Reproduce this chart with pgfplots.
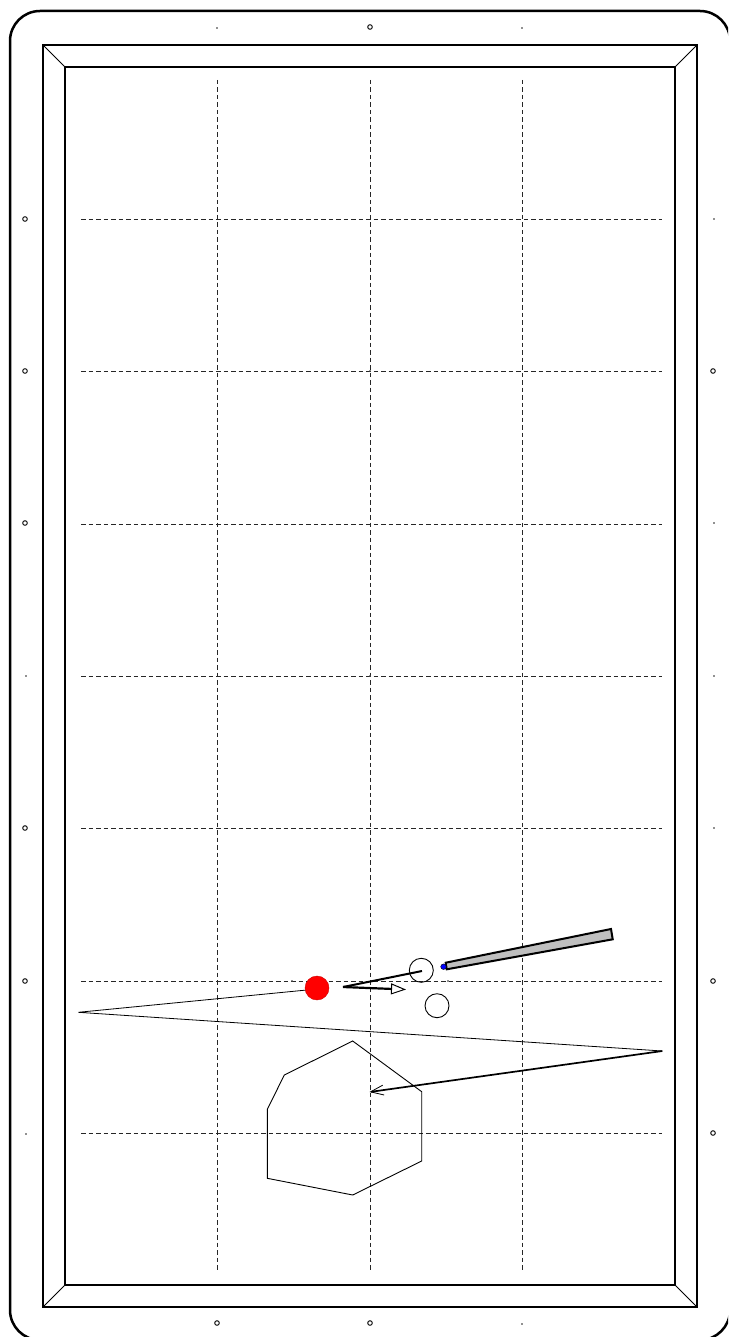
\documentclass[border=0pt]{standalone}
\usepackage{pgfplots}
\pgfplotsset{compat=1.18}
\usetikzlibrary{arrows.meta}
\begin{document}
\begin{tikzpicture}
\begin{axis}[
  scale only axis, width=728bp, height=1337bp,
  xmin=0, xmax=728, ymin=0, ymax=1337, y dir=reverse,
  hide axis, clip=true,
]
% canvas
\addplot[draw=none, forget plot] coordinates {(0,0) (728,1337)};
% outer rounded border
\addplot[black, line width=2.5bp, rounded corners=30bp, no markers] coordinates {(10,600) (10,11) (730,11) (730,1340) (10,1340) (10,600)};
% rail
\addplot[black, line width=1.3bp, no markers] coordinates {(43,45) (697,45) (697,1307) (43,1307) (43,45) (697,45)};
\addplot[black, line width=1.3bp, no markers] coordinates {(65,67) (675,67) (675,1285) (65,1285) (65,67) (675,67)};
\addplot[black, line width=1bp, no markers] coordinates {(43,45) (65,67)};
\addplot[black, line width=1bp, no markers] coordinates {(697,45) (675,67)};
\addplot[black, line width=1bp, no markers] coordinates {(697,1307) (675,1285)};
\addplot[black, line width=1bp, no markers] coordinates {(43,1307) (65,1285)};
% grid
\pgfplotsset{gridl/.style={black!85, line width=0.9bp, dash pattern=on 4.5bp off 3bp, no markers}}
\addplot[gridl] coordinates {(217.5,80) (217.5,1272)};
\addplot[gridl] coordinates {(370,80) (370,1272)};
\addplot[gridl] coordinates {(522.5,80) (522.5,1272)};
\addplot[gridl] coordinates {(81,219) (662,219)};
\addplot[gridl] coordinates {(81,371.5) (662,371.5)};
\addplot[gridl] coordinates {(81,524) (662,524)};
\addplot[gridl] coordinates {(81,676) (662,676)};
\addplot[gridl] coordinates {(81,828) (662,828)};
\addplot[gridl] coordinates {(81,981) (662,981)};
\addplot[gridl] coordinates {(81,1133) (662,1133)};
% diamonds: circles
\addplot[only marks, mark=o, mark size=2.3bp, mark options={line width=0.9bp, black}] coordinates {
 (370,27) (217,1323) (370,1323)
 (25,219) (25,371) (25,523) (25,828) (25,981)
 (713,371) (713,981) (713,1133)};
% diamonds: dots
\addplot[only marks, mark=*, mark size=0.6bp, mark options={black!70, draw=none}] coordinates {
 (217,28) (522,28) (522,1324)
 (26,676) (26,1134)
 (714,219) (714,523) (714,676) (714,828)
 (292,981) (448,981) (370,371) (370,676)};
% hexagon
\addplot[black, line width=0.9bp, no markers] coordinates {(352.7,1041) (421.7,1091.7) (421.7,1161) (352.7,1195) (267.3,1178.3) (267.3,1109.3) (284.3,1075) (352.7,1041) (421.7,1091.7)};
% ball path
\addplot[black, line width=0.8bp, no markers] coordinates {(317,989) (78.3,1012.3) (662.3,1051)};
\addplot[black, line width=1.7bp, no markers, -{Straight Barb[length=13bp, width=10bp, line width=0.8bp]}] coordinates {(662.3,1051) (369.5,1092)};
% balls
\addplot[only marks, mark=*, mark size=12bp, mark options={fill=red, draw=red!80!black, line width=0.4bp}] coordinates {(317,988)};
\addplot[only marks, mark=o, mark size=12bp, mark options={draw=black, line width=0.9bp}] coordinates {(421.3,970.3) (437,1005.7)};
% cue direction
\addplot[black, line width=2bp, no markers] coordinates {(343,987) (422,971)};
\addplot[black, line width=2.2bp, no markers, -{Triangle[open, length=15bp, width=11bp, line width=1bp, fill=white]}] coordinates {(343,987) (406,989.5)};
% cue
\addplot[draw=black, fill=gray!50, line width=2bp, no markers] coordinates {(445.7,962.7) (611,929) (612.7,939.3) (446.7,969.3) (445.7,962.7) (611,929)};
\addplot[only marks, mark=*, mark size=2.8bp, mark options={fill=blue, draw=none}] coordinates {(443.5,966.7)};
\end{axis}
\end{tikzpicture}
\end{document}
